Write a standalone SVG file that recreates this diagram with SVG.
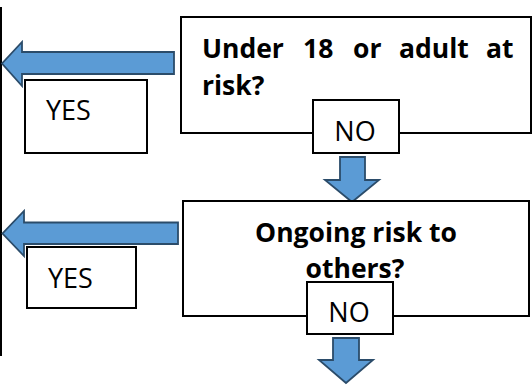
<svg xmlns="http://www.w3.org/2000/svg" width="532" height="389" viewBox="0 0 532 389">
<style>
.box{fill:#fff;stroke:#000;stroke-width:2}
.arrow{fill:#5b9bd5;stroke:#2b4c6a;stroke-width:1.8;stroke-linejoin:miter}
.q{font-family:"Open Sans","Liberation Sans",sans-serif;font-weight:bold;font-size:26.5px;fill:#000}
.lbl{font-family:"Open Sans","Liberation Sans",sans-serif;font-size:27px;fill:#000}
</style>
<g id="connectors">
<line x1="1" y1="7" x2="1" y2="356" stroke="#000" stroke-width="2"/>
<polygon class="arrow" points="174,52 22,52 22,42 2,63.5 22,86 22,74 174,74"/>
<polygon class="arrow" points="178,222.5 24,222.5 24,211 2.5,233.5 24,256 24,244 178,244"/>
<polygon class="arrow" points="340,157 365,157 365,180 379,180 352,202 325,180 340,180"/>
<polygon class="arrow" points="333,338 359,338 359,360 373,360 346,383 319,360 333,360"/>
</g>
<g id="q1">
<rect class="box" x="181" y="17" width="350" height="116"/>
<text class="q" y="58"><tspan x="202">Under</tspan><tspan x="303">18</tspan><tspan x="353">or</tspan><tspan x="399">adult</tspan><tspan x="486">at</tspan></text>
<text class="q" x="202" y="95">risk?</text>
</g>
<g id="yes1">
<rect class="box" x="25" y="80" width="122" height="73"/>
<text class="lbl" x="46" y="120">YES</text>
</g>
<g id="no1">
<rect class="box" x="313" y="100" width="86" height="53"/>
<text class="lbl" x="355" y="141" text-anchor="middle">NO</text>
</g>
<g id="q2">
<rect class="box" x="183" y="201" width="346" height="115"/>
<text class="q" x="356" y="242" text-anchor="middle">Ongoing risk to</text>
<text class="q" x="355" y="278" text-anchor="middle">others?</text>
</g>
<g id="yes2">
<rect class="box" x="27" y="247" width="109" height="61"/>
<text class="lbl" x="48" y="288">YES</text>
</g>
<g id="no2">
<rect class="box" x="307" y="282" width="86" height="52"/>
<text class="lbl" x="349" y="322" text-anchor="middle">NO</text>
</g>
</svg>
